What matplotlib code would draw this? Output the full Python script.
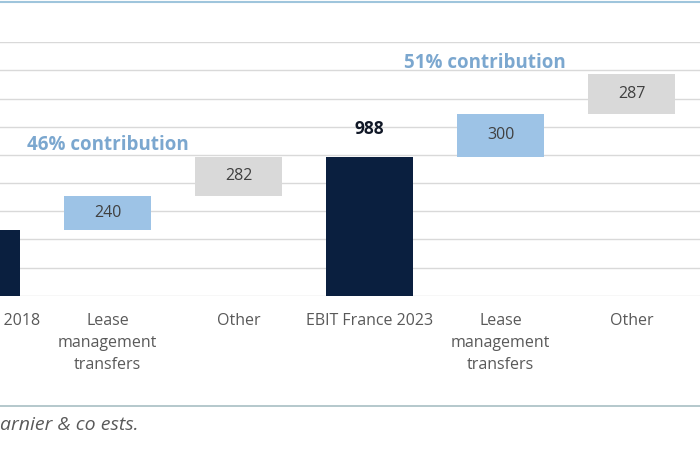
import matplotlib.pyplot as plt
import numpy as np

plt.rcParams['font.family'] = ['Open Sans', 'DejaVu Sans']

categories = ['EBIT France 2018', 'Lease\nmanagement\ntransfers', 'Other',
              'EBIT France 2023', 'Lease\nmanagement\ntransfers', 'Other']
values = [466, 240, 282, 988, 300, 287]
kinds = ['total', 'lease', 'other', 'total', 'lease', 'other']
contrib_labels = ['46% contribution', '51% contribution']
contrib_pos = [1.0, 3.88]
contrib_y = [1070, 1650]

colors = {'total': '#0a1f3f', 'lease': '#9dc3e6', 'other': '#d9d9d9'}

# waterfall bottoms
bottoms = []
running = 0
for v, k in zip(values, kinds):
    if k == 'total':
        bottoms.append(0)
        running = v
    else:
        bottoms.append(running)
        running += v

fig = plt.figure(figsize=(7, 4.5), dpi=100)
W, H = 700, 450
left_px, right_px = -89, 700
top_px, base_px = 42.3, 295.7
ax = fig.add_axes([left_px / W, (H - base_px) / H, (right_px - left_px) / W, (base_px - top_px) / H])

x = np.arange(len(values))
ax.bar(x, values, bottom=bottoms, width=0.664,
       color=[colors[k] for k in kinds], zorder=3)

for i, (v, b, k) in enumerate(zip(values, bottoms, kinds)):
    if i == 0:
        continue  # label of the first bar lies outside the cropped view
    if k == 'total':
        ax.annotate(str(v), (i, b + v), xytext=(0, 20), textcoords='offset points',
                    ha='center', va='center', fontsize=12.5, fontweight='bold', color='#111827')
    else:
        ax.text(i, b + v / 2, str(v), ha='center', va='center', fontsize=11.5, color='#404040', zorder=4)

for lab, px, py in zip(contrib_labels, contrib_pos, contrib_y):
    ax.text(px, py, lab, ha='center', va='center', fontsize=13.5, fontweight='bold', color='#7ba7cf')

ax.set_xlim(-0.5, -0.5 + (right_px - left_px) / 131)
ax.set_ylim(0, 1800)
ax.set_yticks(np.arange(0, 1801, 200))
ax.set_yticklabels([])
ax.tick_params(axis='y', length=0)
ax.grid(axis='y', color='#d9d9d9', linewidth=1, zorder=0)
ax.set_xticks(x)
ax.set_xticklabels(categories, fontsize=11.5, color='#595959', linespacing=1.5, va='top')
ax.tick_params(axis='x', length=0, pad=12.5)
for s in ax.spines.values():
    s.set_visible(False)

fig.add_artist(plt.Line2D([0, 1], [1 - 1.5 / H, 1 - 1.5 / H], color='#9fc5dc', linewidth=1.5))
fig.add_artist(plt.Line2D([0, 1], [1 - 406 / H, 1 - 406 / H], color='#a8bfc4', linewidth=1.2))
fig.text(0, 1 - 425 / H, 'arnier & co ests.', ha='left', va='center', fontsize=14,
         style='italic', color='#595959')

fig.savefig('out.png', dpi=100)
